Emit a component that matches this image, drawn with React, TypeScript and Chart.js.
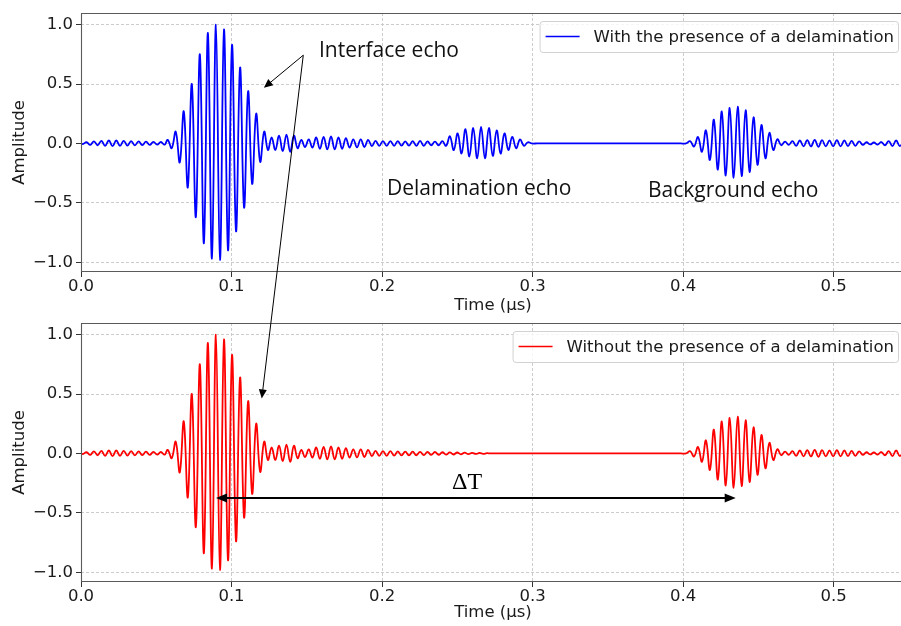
import { useEffect, useRef } from "react";
import { Chart, registerables } from "chart.js";

Chart.register(...registerables);

// Axes
const timeTicks = [0, 0.1, 0.2, 0.3, 0.4, 0.5];
const ampTicks = [-1, -0.5, 0, 0.5, 1];
const timeMax = 0.5475;
const ampMin = -1.082;
const ampMax = 1.098;

const labelWith = "With the presence of a delamination";
const labelWithout = "Without the presence of a delamination";

// Received signals, stored as successive extrema; each segment has its first time and spacing (µs)
const preRippleStart = 0.0012;
const preRippleStep = 0.00247;
const preRipple = [
  -0.005, 0.01, -0.012, 0.018, -0.015, 0.022, -0.02, 0.025, -0.022, 0.025, -0.02, 0.022,
  -0.018, 0.02, -0.016, 0.018, -0.014, 0.015, -0.012, 0.014, -0.01, 0.012, -0.01,
];

const interfaceStart = 0.0576;
const interfaceStep = 0.002672;
const interfaceEcho = [
  0.03, -0.04, 0.1, -0.16, 0.27, -0.37, 0.5, -0.62, 0.75, -0.84, 0.93, -0.97, 1.0, -0.98,
  0.96, -0.9, 0.83, -0.74, 0.64, -0.54, 0.44, -0.34, 0.25, -0.155, 0.1,
];

const afterRippleStart = 0.1242;
const afterRippleStep = 0.002466;
const afterRippleWith = [
  -0.055, 0.05, -0.055, 0.065, -0.065, 0.075, -0.07, 0.065, -0.04, 0.03, -0.03, 0.035,
  -0.035, 0.05, -0.045, 0.055, -0.05, 0.06, -0.05, 0.05, -0.045, 0.045, -0.035, 0.035,
  -0.033, 0.035, -0.03, 0.03, -0.022, 0.022, -0.02, 0.02, -0.02, 0.02, -0.02, 0.02,
  -0.018, 0.018, -0.018, 0.02, -0.02, 0.022, -0.02, 0.018, -0.015, 0.015, -0.015, 0.02, -0.02,
];
const afterRippleWithout = [
  -0.055, 0.05, -0.055, 0.065, -0.065, 0.075, -0.07, 0.065, -0.04, 0.03, -0.03, 0.035,
  -0.035, 0.05, -0.045, 0.055, -0.05, 0.06, -0.05, 0.05, -0.045, 0.045, -0.035, 0.035,
  -0.033, 0.035, -0.03, 0.03, -0.022, 0.022, -0.02, 0.02, -0.02, 0.02, -0.018, 0.018,
  -0.017, 0.016, -0.016, 0.015, -0.015, 0.014, -0.014, 0.013, -0.012, 0.012, -0.011, 0.01,
  -0.01, 0.009, -0.009, 0.008, -0.007, 0.007, -0.006, 0.005, -0.004, 0.004, -0.003, 0.002,
];

const delaminationStart = 0.2451;
const delaminationStep = 0.00259;
const delaminationEcho = [
  0.06, -0.056, 0.085, -0.085, 0.12, -0.11, 0.13, -0.125, 0.14, -0.125, 0.13, -0.105, 0.11,
  -0.085, 0.085, -0.055, 0.055, -0.04, 0.035, -0.02, 0.01,
];

// silent stretch before the back-wall echo (times with zero amplitude)
const quietWithTimes = [0.2995, 0.303, 0.3985, 0.402];
const quietWithoutTimes = [0.2722, 0.276, 0.3985, 0.402];

const backgroundStart = 0.4047;
const backgroundStep = 0.002635;
const backgroundEcho = [
  0.02, -0.025, 0.055, -0.07, 0.11, -0.14, 0.2, -0.22, 0.27, -0.27, 0.3, -0.29, 0.31, -0.275,
  0.28, -0.24, 0.22, -0.18, 0.155, -0.125, 0.09, -0.055, 0.035, -0.015,
];

const tailStart = 0.4678;
const tailStep = 0.00246;
const tailRipple = [
  0.015, -0.012, 0.02, -0.02, 0.025, -0.025, 0.028, -0.025, 0.03, -0.028, 0.028, -0.025,
  0.025, -0.025, 0.028, -0.025, 0.025, -0.022, 0.022, -0.02, 0.018, -0.012, 0.01, -0.008,
  0.008, -0.01, 0.012, -0.015, 0.02, -0.022, 0.025, -0.022, 0.022,
];

// Annotations (data coordinates)
const echoLabels = [
  { text: "Interface echo", x: 0.1581, y: 0.776 },
  { text: "Delamination echo", x: 0.2033, y: -0.384 },
  { text: "Background echo", x: 0.3767, y: -0.401 },
];
const pointerFrom = { x: 0.1477, y: 0.743 };
const pointerTipTop = { x: 0.1215, y: 0.468 };
const pointerTipBottom = { x: 0.1201, y: 0.463 };
const deltaT = { from: 0.0897, to: 0.435, y: -0.376, text: "ΔT", textX: 0.2565, textY: -0.25 };

type Pt = { x: number; y: number };

function segment(start: number, step: number, values: number[]): Pt[] {
  return values.map((y, i) => ({ x: start + i * step, y }));
}

const zeros = (times: number[]): Pt[] => times.map((x) => ({ x, y: 0 }));

const withDelamination: Pt[] = [
  { x: 0, y: 0 },
  ...segment(preRippleStart, preRippleStep, preRipple),
  ...segment(interfaceStart, interfaceStep, interfaceEcho),
  ...segment(afterRippleStart, afterRippleStep, afterRippleWith),
  ...segment(delaminationStart, delaminationStep, delaminationEcho),
  ...zeros(quietWithTimes),
  ...segment(backgroundStart, backgroundStep, backgroundEcho),
  ...segment(tailStart, tailStep, tailRipple),
];

const withoutDelamination: Pt[] = [
  { x: 0, y: 0 },
  ...segment(preRippleStart, preRippleStep, preRipple),
  ...segment(interfaceStart, interfaceStep, interfaceEcho),
  ...segment(afterRippleStart, afterRippleStep, afterRippleWithout),
  ...zeros(quietWithoutTimes),
  ...segment(backgroundStart, backgroundStep, backgroundEcho),
  ...segment(tailStart, tailStep, tailRipple),
];

const FONT = '"DejaVu Sans", sans-serif';
const FONT_SIZE = 16.5;
const TEXT_COLOR = "#1a1a1a";

const fmt = (v: number) => (v < 0 ? "\u2212" : "") + Math.abs(v).toFixed(1);

function panelOptions(padTop: number, padBottom: number, xHeight: number): any {
  const font = { family: FONT, size: FONT_SIZE };
  return {
    responsive: false,
    animation: false,
    devicePixelRatio: 1,
    events: [],
    layout: { padding: { left: 0, right: 5, top: padTop, bottom: padBottom }, autoPadding: false },
    plugins: { legend: { display: false }, tooltip: { enabled: false } },
    scales: {
      x: {
        type: "linear",
        min: 0,
        max: timeMax,
        afterFit: (s: any) => {
          s.height = xHeight;
        },
        afterBuildTicks: (s: any) => {
          s.ticks = timeTicks.map((v) => ({ value: v }));
        },
        ticks: { callback: (v: any) => fmt(Number(v)), font, color: TEXT_COLOR, padding: 0, maxRotation: 0, autoSkip: false },
        grid: { color: "#c6c6c6", lineWidth: 0.9, drawTicks: true, tickLength: 5, tickColor: "#333", tickWidth: 1 },
        border: { display: false, dash: [3, 2] },
        title: { display: true, text: "Time (µs)", font, color: TEXT_COLOR, padding: { top: 0, bottom: 0 } },
      },
      y: {
        type: "linear",
        min: ampMin,
        max: ampMax,
        afterFit: (s: any) => {
          s.width = 81;
        },
        afterBuildTicks: (s: any) => {
          s.ticks = ampTicks.map((v) => ({ value: v }));
        },
        ticks: { callback: (v: any) => fmt(Number(v)), font, color: TEXT_COLOR, padding: 3 },
        grid: { color: "#c6c6c6", lineWidth: 0.9, drawTicks: true, tickLength: 5, tickColor: "#333", tickWidth: 1 },
        border: { display: false, dash: [3, 2] },
        title: { display: true, text: "Amplitude", font, color: TEXT_COLOR, padding: { top: 10, bottom: 0 } },
      },
    },
  };
}

// Left, top and bottom spines; the right one lies past the visible edge
const framePlugin = {
  id: "frame",
  afterDatasetsDraw(chart: any) {
    const { ctx, chartArea } = chart;
    const { left, top, right, bottom } = chartArea;
    ctx.save();
    ctx.strokeStyle = "#5a5a5a";
    ctx.lineWidth = 1.1;
    ctx.beginPath();
    ctx.moveTo(right + 2, top + 0.5);
    ctx.lineTo(left + 0.5, top + 0.5);
    ctx.lineTo(left + 0.5, bottom - 0.5);
    ctx.lineTo(right + 2, bottom - 0.5);
    ctx.stroke();
    ctx.restore();
  },
};

const legendPlugin = {
  id: "boxLegend",
  afterDraw(chart: any) {
    const { ctx, chartArea } = chart;
    const ds = chart.data.datasets[0];
    ctx.save();
    ctx.font = `${FONT_SIZE}px ${FONT}`;
    const tw = ctx.measureText(ds.label).width;
    const w = tw + 58;
    const h = 31;
    const x = chartArea.right - 7 - w;
    const y = chartArea.top + 8;
    ctx.beginPath();
    ctx.roundRect(x + 0.5, y + 0.5, w, h, 3);
    ctx.fillStyle = "rgba(255,255,255,0.8)";
    ctx.fill();
    ctx.strokeStyle = "#d2d2d2";
    ctx.lineWidth = 1;
    ctx.stroke();
    const cy = y + h / 2;
    ctx.beginPath();
    ctx.moveTo(x + 6, cy);
    ctx.lineTo(x + 40, cy);
    ctx.strokeStyle = ds.borderColor;
    ctx.lineWidth = 1.7;
    ctx.stroke();
    ctx.fillStyle = TEXT_COLOR;
    ctx.textBaseline = "middle";
    ctx.textAlign = "left";
    ctx.fillText(ds.label, x + 54, cy + 1);
    ctx.restore();
  },
};

function drawHead(ctx: CanvasRenderingContext2D, fx: number, fy: number, tx: number, ty: number, len: number, half: number) {
  const a = Math.atan2(ty - fy, tx - fx);
  const bx = tx - len * Math.cos(a);
  const by = ty - len * Math.sin(a);
  ctx.beginPath();
  ctx.moveTo(tx, ty);
  ctx.lineTo(bx + half * Math.sin(a), by - half * Math.cos(a));
  ctx.lineTo(bx - half * Math.sin(a), by + half * Math.cos(a));
  ctx.closePath();
  ctx.fill();
}

function drawArrow(ctx: CanvasRenderingContext2D, fx: number, fy: number, tx: number, ty: number, lw: number, len: number, half: number, both: boolean) {
  const a = Math.atan2(ty - fy, tx - fx);
  ctx.lineWidth = lw;
  ctx.beginPath();
  ctx.moveTo(both ? fx + (len - 1) * Math.cos(a) : fx, both ? fy + (len - 1) * Math.sin(a) : fy);
  ctx.lineTo(tx - (len - 1) * Math.cos(a), ty - (len - 1) * Math.sin(a));
  ctx.stroke();
  drawHead(ctx, fx, fy, tx, ty, len, half);
  if (both) drawHead(ctx, tx, ty, fx, fy, len, half);
}

function annotationPlugin(topChart: any) {
  return {
    id: "echoNotes",
    afterDraw(chart: any) {
      const ctx: CanvasRenderingContext2D = chart.ctx;
      const tx = topChart.scales.x;
      const ty = topChart.scales.y;
      const bx = chart.scales.x;
      const by = chart.scales.y;
      ctx.save();
      ctx.strokeStyle = "#000";

      ctx.font = '21px "Open Sans", sans-serif';
      ctx.textBaseline = "middle";
      ctx.textAlign = "left";
      ctx.fillStyle = "#111";
      for (const l of echoLabels) {
        ctx.fillText(l.text, tx.getPixelForValue(l.x), ty.getPixelForValue(l.y));
      }

      ctx.fillStyle = "#000";
      const sx = tx.getPixelForValue(pointerFrom.x);
      const sy = ty.getPixelForValue(pointerFrom.y);
      drawArrow(ctx, sx, sy, tx.getPixelForValue(pointerTipTop.x), ty.getPixelForValue(pointerTipTop.y), 1, 9, 4, false);
      drawArrow(ctx, sx, sy, bx.getPixelForValue(pointerTipBottom.x), by.getPixelForValue(pointerTipBottom.y), 1, 9, 4, false);

      const dy = by.getPixelForValue(deltaT.y);
      drawArrow(ctx, bx.getPixelForValue(deltaT.from), dy, bx.getPixelForValue(deltaT.to), dy, 2, 11, 4.5, true);

      ctx.font = '24px "Liberation Serif", serif';
      ctx.textAlign = "center";
      ctx.fillText(deltaT.text, bx.getPixelForValue(deltaT.textX), by.getPixelForValue(deltaT.textY));
      ctx.restore();
    },
  };
}

function dataset(data: Pt[], color: string, label: string) {
  return {
    label,
    data,
    borderColor: color,
    backgroundColor: color,
    borderWidth: 1.8,
    pointRadius: 0,
    tension: 0.4,
    fill: false,
  };
}

export default function App() {
  const topRef = useRef<HTMLCanvasElement>(null);
  const bottomRef = useRef<HTMLCanvasElement>(null);

  useEffect(() => {
    const top = new Chart(topRef.current as HTMLCanvasElement, {
      type: "line",
      data: { datasets: [dataset(withDelamination, "#0000ff", labelWith)] as any },
      options: panelOptions(13, 310, 44),
      plugins: [framePlugin, legendPlugin],
    });
    const bottom = new Chart(bottomRef.current as HTMLCanvasElement, {
      type: "line",
      data: { datasets: [dataset(withoutDelamination, "#ff0000", labelWithout)] as any },
      options: panelOptions(323, 3, 41),
      plugins: [framePlugin, legendPlugin, annotationPlugin(top)],
    });
    return () => {
      bottom.destroy();
      top.destroy();
    };
  }, []);

  return (
    <div style={{ position: "absolute", left: 0, top: 0, width: 901, height: 626, overflow: "hidden", background: "#fff" }}>
      <canvas ref={topRef} width={910} height={626} style={{ position: "absolute", left: 0, top: 0 }} />
      <canvas ref={bottomRef} width={910} height={626} style={{ position: "absolute", left: 0, top: 0 }} />
    </div>
  );
}
